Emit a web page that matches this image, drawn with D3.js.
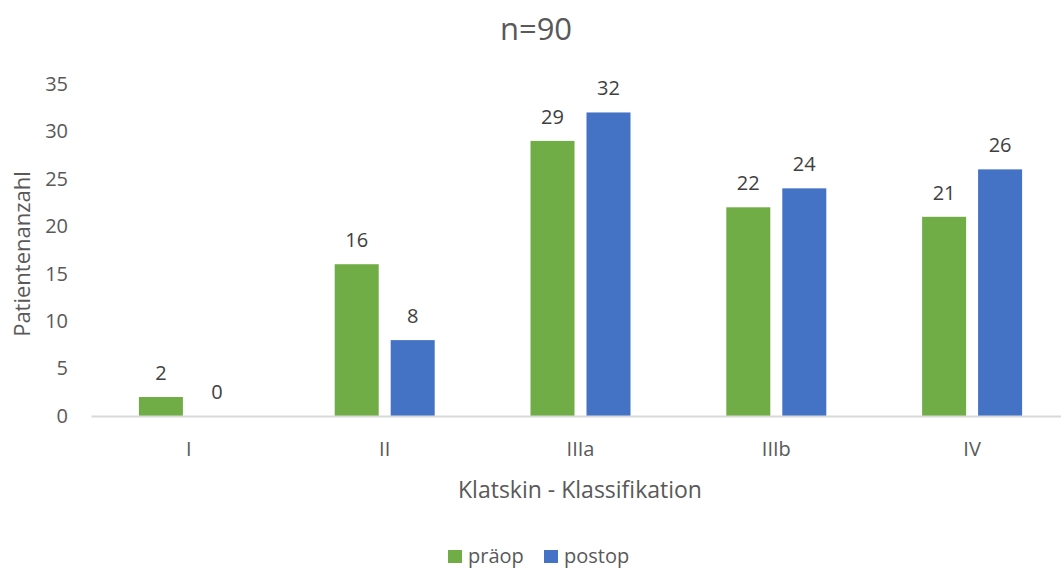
<!DOCTYPE html>
<html>
<head>
<meta charset="utf-8">
<script src="https://cdn.jsdelivr.net/npm/d3@7"></script>
<style>
  html, body { margin: 0; padding: 0; background: #fff; }
  svg { display: block; }
  text { font-family: "Open Sans", "Noto Sans", sans-serif; fill: #595959; }
</style>
</head>
<body>
<svg id="chart" width="1061" height="570"></svg>
<script>
// Klatskin classification, patient counts before and after surgery
const categories = ["I", "II", "IIIa", "IIIb", "IV"];
const seriesNames = ["präop", "postop"];
const praeop = [2, 16, 29, 22, 21];
const postop = [0, 8, 32, 24, 26];
const yTicks = [0, 5, 10, 15, 20, 25, 30, 35];
const colors = ["#70ad47", "#4472c4"];

const svg = d3.select("#chart");
const plot = { left: 91, right: 1070, top: 84, bottom: 416 };

const x0 = d3.scaleBand().domain(categories).range([plot.left, plot.right]).padding(0);
const x1 = d3.scaleBand().domain(seriesNames).range([0, 100]).paddingInner(0.214).paddingOuter(0);
const y = d3.scaleLinear().domain([0, 35]).range([plot.bottom, plot.top]);

const rows = categories.map((c, i) => ({ cat: c, values: [praeop[i], postop[i]] }));

// Title
svg.append("text")
  .attr("x", 536).attr("y", 40)
  .attr("text-anchor", "middle")
  .style("font-size", "31px")
  .text("n=90");

// Y axis tick labels (no axis line)
const yAxis = d3.axisLeft(y).tickValues(yTicks).tickSize(0).tickPadding(0);
const gy = svg.append("g").attr("transform", `translate(68,0)`).call(yAxis);
gy.select(".domain").remove();
gy.selectAll("text")
  .style("font-size", "20px")
  .style("font-family", "'Open Sans', sans-serif")
  .style("fill", "#595959");

// Bars
const groups = svg.append("g").selectAll("g")
  .data(rows).join("g")
  .attr("transform", d => `translate(${x0(d.cat) + x0.bandwidth() / 2 - 50},0)`);

groups.selectAll("rect")
  .data(d => d.values.map((v, i) => ({ key: seriesNames[i], v, i })))
  .join("rect")
  .attr("x", d => x1(d.key))
  .attr("width", x1.bandwidth())
  .attr("y", d => y(d.v))
  .attr("height", d => y(0) - y(d.v))
  .attr("fill", d => colors[d.i]);

// Data labels
groups.selectAll("text.val")
  .data(d => d.values.map((v, i) => ({ key: seriesNames[i], v, i })))
  .join("text")
  .attr("class", "val")
  .attr("x", d => x1(d.key) + x1.bandwidth() / 2)
  .attr("y", d => y(d.v) - 17)
  .attr("text-anchor", "middle")
  .style("font-size", "20px")
  .style("fill", "#404040")
  .text(d => d.v);

// X axis
const xAxis = d3.axisBottom(x0).tickSize(0).tickPadding(0);
const gx = svg.append("g").attr("transform", `translate(0,${plot.bottom})`).call(xAxis);
gx.select(".domain").attr("stroke", "#d9d9d9").attr("stroke-width", 2);
gx.selectAll("text")
  .attr("dy", "0")
  .attr("y", 40)
  .style("font-size", "20px")
  .style("font-family", "'Open Sans', sans-serif")
  .style("fill", "#595959");

// Axis titles
svg.append("text")
  .attr("x", 580).attr("y", 498)
  .attr("text-anchor", "middle")
  .style("font-size", "23px")
  .text("Klatskin - Klassifikation");

svg.append("text")
  .attr("transform", "translate(30,254) rotate(-90)")
  .attr("text-anchor", "middle")
  .style("font-size", "22px")
  .text("Patientenanzahl");

// Legend
const legend = svg.append("g").attr("transform", "translate(448,557)");
const legendItems = legend.selectAll("g").data(seriesNames).join("g")
  .attr("transform", (d, i) => `translate(${i * 96},0)`);
legendItems.append("rect")
  .attr("x", 0).attr("y", -7).attr("width", 14).attr("height", 13)
  .attr("fill", (d, i) => colors[i]);
legendItems.append("text")
  .attr("x", 20).attr("y", 6)
  .style("font-size", "20px")
  .text(d => d);
</script>
</body>
</html>
